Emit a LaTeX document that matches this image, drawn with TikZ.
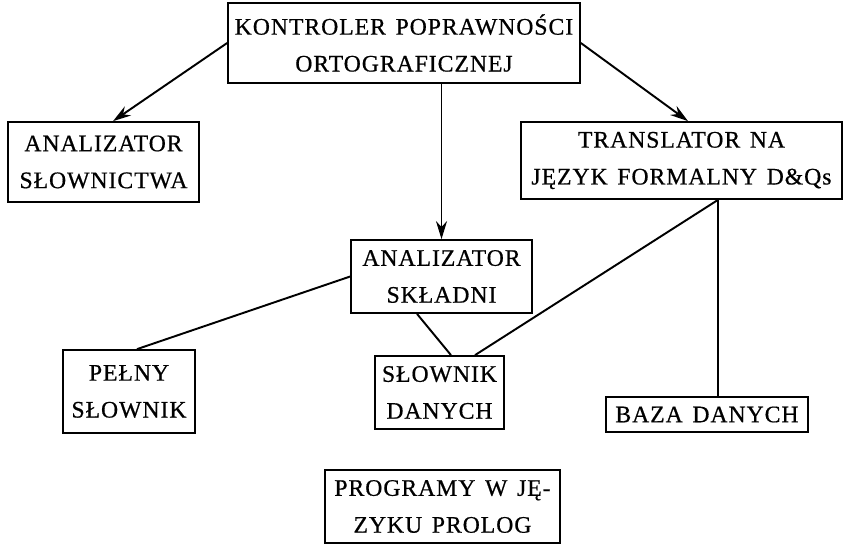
\documentclass[tikz,border=0pt]{standalone}
\usepackage{fontspec}
\setmainfont{Liberation Serif}[LetterSpace=4,WordSpace=1.4,FakeBold=0.6]
\usetikzlibrary{arrows.meta}
\tikzset{
  blok/.style={draw, line width=1pt, inner sep=0pt, align=center,
    font=\fontsize{13.5}{21}\selectfont},
  strz/.style={line width=1.1pt, -{Stealth[length=3.6mm,width=2.2mm]}},
  lin/.style={line width=1.1pt}
}
\begin{document}
\begin{tikzpicture}[x=0.02cm, y=-0.02cm]
\useasboundingbox (0,0) rectangle (855,545);
\node[blok, minimum width=7.04cm, minimum height=1.6cm] (kontroler) at (404,43) {KONTROLER POPRAWNOŚCI\\ORTOGRAFICZNEJ};
\node[blok, minimum width=3.82cm, minimum height=1.6cm] (slownictwa) at (103.5,162) {ANALIZATOR\\SŁOWNICTWA};
\node[blok, minimum width=6.42cm, minimum height=1.54cm] (translator) at (681.5,160.5) {TRANSLATOR NA\\JĘZYK FORMALNY D\&Qs};
\node[blok, minimum width=3.62cm, minimum height=1.46cm] (skladni) at (441.5,276.5) {ANALIZATOR\\SKŁADNI};
\node[blok, minimum width=2.64cm, minimum height=1.66cm] (pelny) at (129,391.5) {PEŁNY\\SŁOWNIK};
\node[blok, minimum width=2.58cm, minimum height=1.46cm] (slownik) at (439.5,392.5) {SŁOWNIK\\DANYCH};
\node[blok, minimum width=4.04cm, minimum height=0.7cm] (baza) at (707,414.5) {BAZA DANYCH};
\node[blok, minimum width=4.7cm, minimum height=1.46cm] (prolog) at (442.5,506.5) {PROGRAMY W JĘ-\\ZYKU PROLOG};
\coordinate (tr) at ([xshift=0.73cm]translator.south);
\draw[strz] (kontroler.west) -- ([xshift=0.19cm]slownictwa.north);
\draw[strz] (kontroler.east) -- ([xshift=0.13cm]translator.north);
\draw[strz] (kontroler.south -| skladni.north) -- (skladni.north);
\draw[lin] (skladni.west) -- ([xshift=0.16cm]pelny.north);
\draw[lin] ([xshift=-0.49cm]skladni.south) -- ([xshift=0.23cm]slownik.north);
\draw[lin] (tr) -- ([xshift=0.71cm]slownik.north);
\draw[lin] (tr) -- (tr |- baza.north);
\end{tikzpicture}
\end{document}
